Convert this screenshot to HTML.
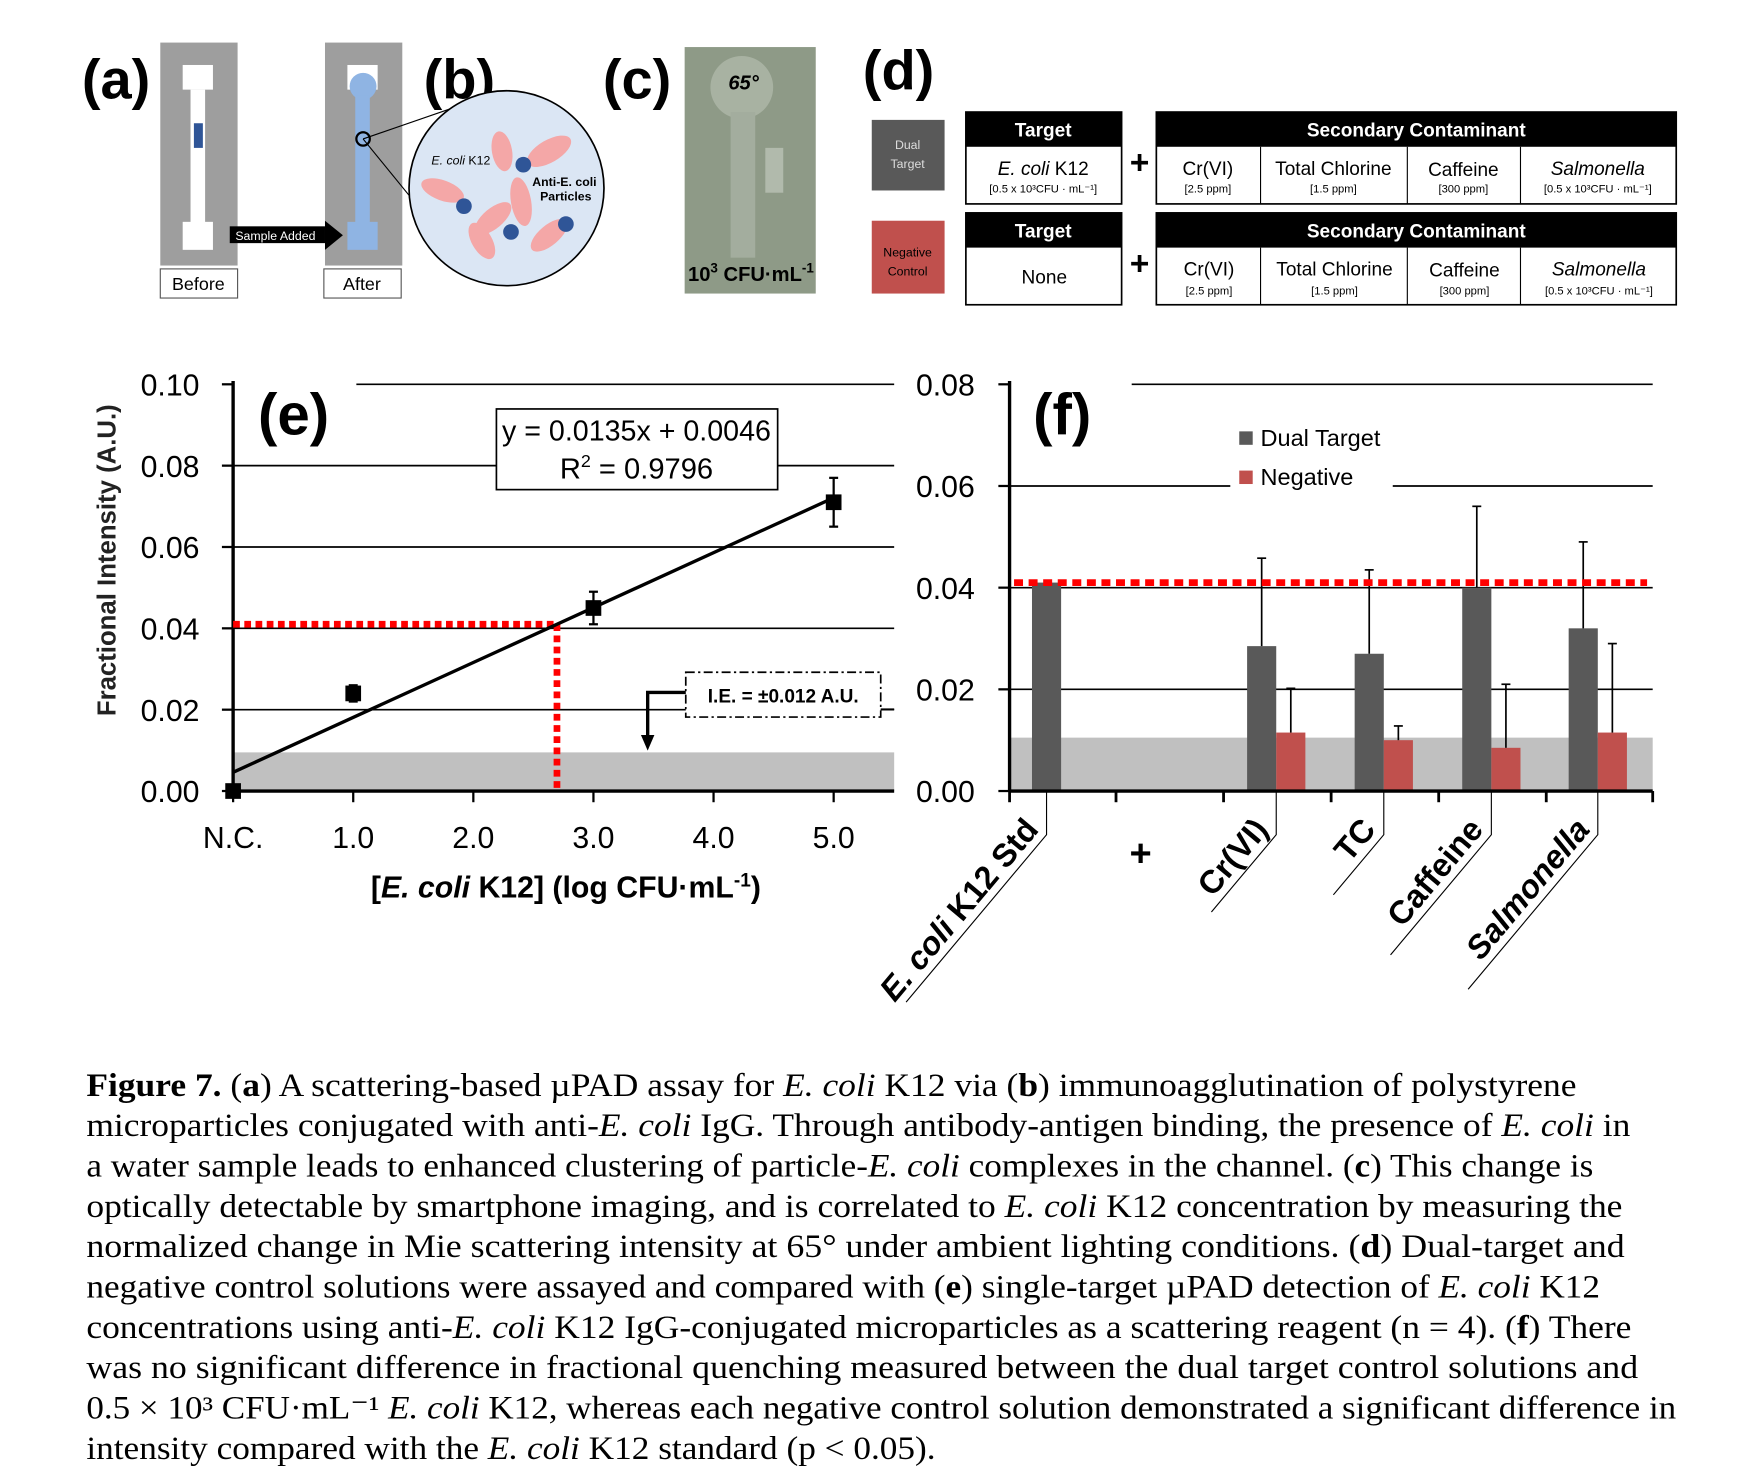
<!DOCTYPE html>
<html><head><meta charset="utf-8"><style>
html,body{margin:0;padding:0;background:#fff;}
svg{display:block;}
.cal{font-family:"Liberation Sans Narrow","Liberation Sans",sans-serif;}
.ser{font-family:"Liberation Serif",serif;}
</style></head><body>
<svg id="fig" width="1748" height="1470" viewBox="0 0 1560 1312" xmlns="http://www.w3.org/2000/svg">
<rect x="0" y="0" width="1560" height="1312" fill="#fff"/>
<g class="cal">
<text x="73" y="88" font-size="50" font-weight="bold">(a)</text>
<rect x="143" y="38" width="69" height="199" fill="#9e9e9e"/>
<rect x="163" y="58" width="27" height="22" fill="#fff"/><rect x="170" y="80" width="13" height="120" fill="#fff"/><rect x="163" y="198" width="27" height="25" fill="#fff"/>
<rect x="173" y="110" width="8" height="22" fill="#2f5597"/>
<rect x="290" y="38" width="69" height="199" fill="#9e9e9e"/>
<rect x="310" y="58" width="27" height="22" fill="#fff"/><circle cx="324" cy="77" r="12" fill="#8fb4e3"/><rect x="317" y="85" width="13" height="115" fill="#8fb4e3"/><rect x="310" y="198" width="27" height="25" fill="#8fb4e3"/>
<rect x="205" y="202" width="85" height="15" fill="#000"/><polygon points="290,197 306,210 290,223" fill="#000"/>
<text x="210" y="214" font-size="11" fill="#fff">Sample Added</text>
<rect x="143" y="240" width="69" height="26" fill="#fff" stroke="#555"/><text x="177" y="259" font-size="16" text-anchor="middle">Before</text>
<rect x="289" y="240" width="69" height="26" fill="#fff" stroke="#555"/><text x="323" y="259" font-size="16" text-anchor="middle">After</text>
</g>
<g class="cal">
<text x="378" y="88" font-size="50" font-weight="bold">(b)</text>
<line x1="324" y1="124" x2="408" y2="95" stroke="#000"/><line x1="324" y1="124" x2="390" y2="205" stroke="#000"/>
<circle cx="324" cy="124" r="6" fill="none" stroke="#000" stroke-width="2"/>
<circle cx="452" cy="168" r="87" fill="#dbe6f4" stroke="#000" stroke-width="1.5"/>
<ellipse cx="490" cy="135" rx="22" ry="10" fill="#f4a7a7" transform="rotate(-30 490 135)"/>
<ellipse cx="448" cy="135" rx="18" ry="9" fill="#f4a7a7" transform="rotate(80 448 135)"/>
<ellipse cx="395" cy="170" rx="20" ry="9" fill="#f4a7a7" transform="rotate(20 395 170)"/>
<ellipse cx="440" cy="195" rx="20" ry="9" fill="#f4a7a7" transform="rotate(-40 440 195)"/>
<ellipse cx="465" cy="180" rx="22" ry="9" fill="#f4a7a7" transform="rotate(80 465 180)"/>
<ellipse cx="430" cy="215" rx="18" ry="9" fill="#f4a7a7" transform="rotate(60 430 215)"/>
<ellipse cx="490" cy="210" rx="20" ry="9" fill="#f4a7a7" transform="rotate(-40 490 210)"/>
<circle cx="467" cy="147" r="7" fill="#2f5597"/><circle cx="414" cy="184" r="7" fill="#2f5597"/><circle cx="456" cy="207" r="7" fill="#2f5597"/><circle cx="505" cy="200" r="7" fill="#2f5597"/>
<text x="385" y="147" font-size="11" font-style="italic">E. coli <tspan font-style="normal">K12</tspan></text>
<text x="475" y="166" font-size="11" font-weight="bold">Anti-E. coli</text><text x="482" y="179" font-size="11" font-weight="bold">Particles</text>
</g>
<g class="cal">
<text x="538" y="88" font-size="50" font-weight="bold">(c)</text>
<rect x="611" y="42" width="117" height="220" fill="#8e9a87"/>
<circle cx="662" cy="78" r="28" fill="#a8b2a2"/><rect x="652" y="100" width="22" height="130" fill="#a3ad9e"/><rect x="683" y="132" width="16" height="40" fill="#b1baac"/>
<text x="650" y="80" font-size="18" font-style="italic" font-weight="bold">65°</text>
<text x="614" y="251" font-size="18" font-weight="bold">10<tspan font-size="12" dy="-8">3</tspan><tspan dy="8"> CFU·mL</tspan><tspan font-size="12" dy="-8">-1</tspan></text>
</g>
<g class="cal">
<text x="770" y="80" font-size="50" font-weight="bold">(d)</text>
<rect x="778" y="107" width="65" height="63" fill="#595959"/><text x="810" y="133" font-size="11" text-anchor="middle" fill="#ddd">Dual</text><text x="810" y="150" font-size="11" text-anchor="middle" fill="#ddd">Target</text>
<rect x="778" y="197" width="65" height="65" fill="#c0504d"/><text x="810" y="229" font-size="11" text-anchor="middle">Negative</text><text x="810" y="246" font-size="11" text-anchor="middle">Control</text>
<g stroke="#000" stroke-width="1.5" fill="#fff">
<rect x="862" y="100" width="139" height="82"/><rect x="1032" y="100" width="464" height="82"/>
<rect x="862" y="190" width="139" height="82"/><rect x="1032" y="190" width="464" height="82"/>
</g>
<rect x="862" y="100" width="139" height="31" fill="#000"/><rect x="1032" y="100" width="464" height="31" fill="#000"/>
<rect x="862" y="190" width="139" height="31" fill="#000"/><rect x="1032" y="190" width="464" height="31" fill="#000"/>
<g stroke="#000" stroke-width="1"><line x1="1125" y1="131" x2="1125" y2="182"/><line x1="1256" y1="131" x2="1256" y2="182"/><line x1="1357" y1="131" x2="1357" y2="182"/>
<line x1="1125" y1="221" x2="1125" y2="272"/><line x1="1256" y1="221" x2="1256" y2="272"/><line x1="1357" y1="221" x2="1357" y2="272"/></g>
<g font-size="17" fill="#fff" font-weight="bold" text-anchor="middle"><text x="931" y="122">Target</text><text x="1264" y="122">Secondary Contaminant</text><text x="931" y="212">Target</text><text x="1264" y="212">Secondary Contaminant</text></g>
<g font-size="17" text-anchor="middle">
<text x="931" y="156"><tspan font-style="italic">E. coli</tspan> K12</text><text x="1078" y="156">Cr(VI)</text><text x="1190" y="156">Total Chlorine</text><text x="1306" y="157">Caffeine</text><text x="1426" y="156" font-style="italic">Salmonella</text>
<text x="932" y="253">None</text><text x="1079" y="246">Cr(VI)</text><text x="1191" y="246">Total Chlorine</text><text x="1307" y="247">Caffeine</text><text x="1427" y="246" font-style="italic">Salmonella</text>
</g>
<g font-size="10" text-anchor="middle"><text x="931" y="172">[0.5 x 10³CFU · mL⁻¹]</text><text x="1078" y="172">[2.5 ppm]</text><text x="1190" y="172">[1.5 ppm]</text><text x="1306" y="172">[300 ppm]</text><text x="1426" y="172">[0.5 x 10³CFU · mL⁻¹]</text>
<text x="1079" y="263">[2.5 ppm]</text><text x="1191" y="263">[1.5 ppm]</text><text x="1307" y="263">[300 ppm]</text><text x="1427" y="263">[0.5 x 10³CFU · mL⁻¹]</text></g>
<text x="1017" y="155" font-size="30" font-weight="bold" text-anchor="middle">+</text><text x="1017" y="245" font-size="30" font-weight="bold" text-anchor="middle">+</text>
</g>
<g id="chartE" class="cal"></g>
<g id="chartF" class="cal"></g>
<g class="ser" font-size="29">
<text x="77" y="978" textLength="1330" lengthAdjust="spacingAndGlyphs"><tspan font-weight="bold">Figure 7.</tspan>  (<tspan font-weight="bold">a</tspan>) A scattering-based µPAD assay for <tspan font-style="italic">E. coli</tspan> K12 via (<tspan font-weight="bold">b</tspan>) immunoagglutination of polystyrene</text>
<text x="77" y="1014" textLength="1378" lengthAdjust="spacingAndGlyphs">microparticles conjugated with anti-<tspan font-style="italic">E. coli</tspan> IgG. Through antibody-antigen binding, the presence of <tspan font-style="italic">E. coli</tspan> in</text>
<text x="77" y="1050" textLength="1345" lengthAdjust="spacingAndGlyphs">a water sample leads to enhanced clustering of particle-<tspan font-style="italic">E. coli</tspan> complexes in the channel. (<tspan font-weight="bold">c</tspan>) This change is</text>
<text x="77" y="1086" textLength="1371" lengthAdjust="spacingAndGlyphs">optically detectable by smartphone imaging, and is correlated to <tspan font-style="italic">E. coli</tspan> K12 concentration by measuring the</text>
<text x="77" y="1122" textLength="1373" lengthAdjust="spacingAndGlyphs">normalized change in Mie scattering intensity at 65° under ambient lighting conditions. (<tspan font-weight="bold">d</tspan>) Dual-target and</text>
<text x="77" y="1158" textLength="1351" lengthAdjust="spacingAndGlyphs">negative control solutions were assayed and compared with (<tspan font-weight="bold">e</tspan>) single-target µPAD detection of <tspan font-style="italic">E. coli</tspan> K12</text>
<text x="77" y="1194" textLength="1379" lengthAdjust="spacingAndGlyphs">concentrations using anti-<tspan font-style="italic">E. coli</tspan> K12 IgG-conjugated microparticles as a scattering reagent (n = 4). (<tspan font-weight="bold">f</tspan>) There</text>
<text x="77" y="1230" textLength="1385" lengthAdjust="spacingAndGlyphs">was no significant difference in fractional quenching measured between the dual target control solutions and</text>
<text x="77" y="1266" textLength="1419" lengthAdjust="spacingAndGlyphs">0.5 × 10³ CFU·mL⁻¹ <tspan font-style="italic">E. coli</tspan> K12, whereas each negative control solution demonstrated a significant difference in</text>
<text x="77" y="1302" textLength="758" lengthAdjust="spacingAndGlyphs">intensity compared with the <tspan font-style="italic">E. coli</tspan> K12 standard (p &lt; 0.05).</text>
</g>
</svg>
<script>
const NS = "http://www.w3.org/2000/svg";
// ---- chart (e) data ----
const eXTicks = [0, 1, 2, 3, 4, 5];
const eXTickLabels = ["N.C.", "1.0", "2.0", "3.0", "4.0", "5.0"];
const eYTicks = [0, 0.02, 0.04, 0.06, 0.08, 0.10];
const eYTickLabels = ["0.00", "0.02", "0.04", "0.06", "0.08", "0.10"];
const ePointX = [0, 1, 3, 5];
const ePointY = [0.000, 0.024, 0.045, 0.071];
const ePointErr = [0.001, 0.002, 0.004, 0.006];
const eSlope = [0.0135];
const eIntercept = [0.0046];
const eLOD = [0.041];
const eBand = [0.0095];
// ---- chart (f) data ----
const fCategories = ["E. coli K12 Std", "Cr(VI)", "TC", "Caffeine", "Salmonella"];
const fDual = [0.041, 0.0285, 0.027, 0.040, 0.032];
const fDualErr = [0, 0.0173, 0.0165, 0.016, 0.017];
const fNeg = [null, 0.0115, 0.010, 0.0085, 0.0115];
const fNegErr = [null, 0.0087, 0.0028, 0.0125, 0.0175];
const fYTicks = [0, 0.02, 0.04, 0.06, 0.08];
const fYTickLabels = ["0.00", "0.02", "0.04", "0.06", "0.08"];
const fLOD = [0.041];
const fBand = [0.0105];

function mk(tag, attrs, parent){ const e=document.createElementNS(NS,tag); for(const k in attrs) e.setAttribute(k,attrs[k]); parent.appendChild(e); return e; }

(function(){
  const g=document.getElementById('chartE');
  const X0=208, X1=798, Y0=706, Y1=343;
  const ex=v=>X0+v*107.2;
  const ey=v=>Y0-(v/0.10)*(Y0-Y1);
  let r=mk('rect',{x:X0,y:ey(eBand[0]),width:X1-X0,height:Y0-ey(eBand[0]),fill:'#c0c0c0'},g);
  
  
  eYTicks.forEach((t,i)=>{
    const y=ey(t);
    if(t>0){
      let segs=[[X0,X1]];
      if(i===5) segs=[[318,X1]];
      if(i===4) segs=[[X0,443],[694,X1]];
      segs.forEach(s=>{ const l=mk('line',{x1:s[0],x2:s[1],y1:y,y2:y,stroke:'#000','stroke-width':1.5},g);
        
         });
    }
    mk('line',{x1:X0-10,x2:X0,y1:y,y2:y,stroke:'#000','stroke-width':2},g);
    const tx=mk('text',{x:178,y:y+10,'font-size':27,'text-anchor':'end'},g); tx.textContent=eYTickLabels[i];
    
    
  });
  eXTicks.forEach((t,i)=>{
    const x=ex(t);
    mk('line',{x1:x,x2:x,y1:Y0,y2:Y0+10,stroke:'#000','stroke-width':2},g);
    const tx=mk('text',{x:x,y:757,'font-size':27,'text-anchor':'middle'},g); tx.textContent=eXTickLabels[i];
    
    
  });
  mk('line',{x1:X0,x2:X0,y1:Y1-3,y2:Y0,stroke:'#000','stroke-width':3},g);
  mk('line',{x1:X0,x2:X1,y1:Y0,y2:Y0,stroke:'#000','stroke-width':3},g);
  const xl=(eLOD[0]-eIntercept[0])/eSlope[0];
  let l1=mk('line',{x1:X0,x2:ex(xl),y1:ey(eLOD[0]),y2:ey(eLOD[0]),stroke:'#f00','stroke-width':6,'stroke-dasharray':'6 4'},g);
  
  
  let l2=mk('line',{x1:ex(xl),x2:ex(xl),y1:ey(eLOD[0]),y2:Y0,stroke:'#f00','stroke-width':6,'stroke-dasharray':'6 4'},g);
  
  
  let fit=mk('line',{x1:ex(0),y1:ey(eIntercept[0]),x2:ex(5),y2:ey(eIntercept[0]+5*eSlope[0]),stroke:'#000','stroke-width':3},g);
  
  
  ePointX.forEach((xv,i)=>{
    const x=ex(xv), y=ey(ePointY[i]), e=(ePointErr[i]/0.10)*(Y0-Y1);
    mk('line',{x1:x,x2:x,y1:y-e,y2:y+e,stroke:'#000','stroke-width':2},g);
    mk('line',{x1:x-4,x2:x+4,y1:y-e,y2:y-e,stroke:'#000','stroke-width':2},g);
    mk('line',{x1:x-4,x2:x+4,y1:y+e,y2:y+e,stroke:'#000','stroke-width':2},g);
    const p=mk('rect',{x:x-7,y:y-7,width:14,height:14,fill:'#000'},g);
    
    
  });
  const bx=mk('rect',{x:443,y:365,width:251,height:72,fill:'#fff',stroke:'#000','stroke-width':1.5},g);
  
  
  let t=mk('text',{x:448,y:393,'font-size':26,textLength:240,lengthAdjust:'spacingAndGlyphs'},g); t.textContent='y = 0.0135x + 0.0046';
  t=mk('text',{x:568,y:427,'font-size':26,'text-anchor':'middle'},g); t.innerHTML='R<tspan font-size="16" dy="-10">2</tspan><tspan dy="10"> = 0.9796</tspan>';
  const ib=mk('rect',{x:612,y:600,width:174,height:40,fill:'#fff',stroke:'#000','stroke-width':1.5,'stroke-dasharray':'8 3 2 3'},g);
  
  
  t=mk('text',{x:699,y:627,'font-size':17,'font-weight':'bold','text-anchor':'middle'},g); t.textContent='I.E. = ±0.012 A.U.';
  mk('path',{d:'M612 618 H578 V660',fill:'none',stroke:'#000','stroke-width':3},g);
  mk('polygon',{points:'572,656 584,656 578,670',fill:'#000'},g);
  mk('line',{x1:786,x2:798,y1:633,y2:633,stroke:'#000','stroke-width':1.5},g);
  t=mk('text',{x:262,y:388,'font-size':52,'font-weight':'bold','text-anchor':'middle'},g); t.textContent='(e)';
  t=mk('text',{x:0,y:0,'font-size':23,'font-weight':'bold','text-anchor':'middle',transform:'translate(103 500) rotate(-90)',fill:'#222','font-family':'Liberation Sans, sans-serif'},g); t.textContent='Fractional Intensity (A.U.)';
  
  
  t=mk('text',{x:505,y:801,'font-size':27,'font-weight':'bold','text-anchor':'middle'},g); t.innerHTML='[<tspan font-style="italic">E. coli</tspan> K12] (log CFU·mL<tspan font-size="17" dy="-10">-1</tspan><tspan dy="10">)</tspan>';
  
  
})();

(function(){
  const g=document.getElementById('chartF');
  const X0=901, X1=1475, Y0=706, Y1=343;
  const fy=v=>Y0-(v/0.08)*(Y0-Y1);
  const centers=[934,1139,1235,1331,1426];
  const bw=26;
  let r=mk('rect',{x:X0,y:fy(fBand[0]),width:X1-X0,height:Y0-fy(fBand[0]),fill:'#c0c0c0'},g);
  
  
  fYTicks.forEach((tv,i)=>{
    const y=fy(tv);
    if(tv>0){
      let segs=[[X0,X1]];
      if(i===4) segs=[[1010,X1]];
      if(i===3) segs=[[X0,1098],[1243,X1]];
      segs.forEach(s=>{ const l=mk('line',{x1:s[0],x2:s[1],y1:y,y2:y,stroke:'#000','stroke-width':1.5},g);
        
         });
    }
    mk('line',{x1:X0-10,x2:X0,y1:y,y2:y,stroke:'#000','stroke-width':2},g);
    const tx=mk('text',{x:870,y:y+10,'font-size':27,'text-anchor':'end'},g); tx.textContent=fYTickLabels[i];
    
    
  });
  [901,996,1092,1188,1284,1380,1475].forEach(x=>mk('line',{x1:x,x2:x,y1:Y0,y2:Y0+10,stroke:'#000','stroke-width':2.5},g));
  fCategories.forEach((c,i)=>{
    const cx=centers[i];
    const bx = fNeg[i]===null ? cx-13 : cx-bw;
    const b=mk('rect',{x:bx,y:fy(fDual[i]),width:bw,height:Y0-fy(fDual[i]),fill:'#595959'},g);
    
    
    if(fDualErr[i]>0){ const ex=bx+bw/2, top=fy(fDual[i]+fDualErr[i]);
      mk('line',{x1:ex,x2:ex,y1:top,y2:fy(fDual[i]),stroke:'#000','stroke-width':1.5},g);
      mk('line',{x1:ex-4,x2:ex+4,y1:top,y2:top,stroke:'#000','stroke-width':1.5},g); }
    if(fNeg[i]!==null){
      const nb=mk('rect',{x:cx,y:fy(fNeg[i]),width:bw,height:Y0-fy(fNeg[i]),fill:'#c0504d'},g);
      
      
      const ex=cx+bw/2, top=fy(fNeg[i]+fNegErr[i]);
      mk('line',{x1:ex,x2:ex,y1:top,y2:fy(fNeg[i]),stroke:'#000','stroke-width':1.5},g);
      mk('line',{x1:ex-4,x2:ex+4,y1:top,y2:top,stroke:'#000','stroke-width':1.5},g);
    }
    const lx=cx, ly=745, len=[195,90,70,140,180][i];
    const a=50*Math.PI/180;
    mk('path',{d:`M${lx} ${Y0} V${ly} L${lx-len*Math.cos(a)} ${ly+len*Math.sin(a)}`,fill:'none',stroke:'#000','stroke-width':1},g);
    const t=mk('text',{x:0,y:0,'font-size':29,'font-weight':'bold','text-anchor':'end',transform:`translate(${lx-6} ${ly-4}) rotate(-50)`,'font-style':(i===0||i===4)?'italic':'normal'},g);
    if(i===0) t.innerHTML='E. coli <tspan font-style="normal">K12 Std</tspan>'; else t.textContent=c;
    
    
  });
  let pl=mk('text',{x:1018,y:773,'font-size':34,'font-weight':'bold','text-anchor':'middle'},g); pl.textContent='+';
  mk('line',{x1:X0,x2:X1,y1:Y0,y2:Y0,stroke:'#000','stroke-width':3},g);
  mk('line',{x1:X0,x2:X0,y1:Y1-3,y2:Y0,stroke:'#000','stroke-width':3},g);
  let lod=mk('line',{x1:X0+4,x2:1470,y1:fy(fLOD[0]),y2:fy(fLOD[0]),stroke:'#f00','stroke-width':6,'stroke-dasharray':'8 5'},g);
  
  
  let t=mk('text',{x:948,y:388,'font-size':52,'font-weight':'bold','text-anchor':'middle'},g); t.textContent='(f)';
  const l1=mk('rect',{x:1106,y:385,width:12,height:12,fill:'#595959'},g);
  
  
  t=mk('text',{x:1125,y:398,'font-size':21},g); t.textContent='Dual Target';
  
  
  const l2=mk('rect',{x:1106,y:420,width:12,height:12,fill:'#c0504d'},g);
  
  
  t=mk('text',{x:1125,y:433,'font-size':21},g); t.textContent='Negative';
  
  
})();
</script>
</body></html>
